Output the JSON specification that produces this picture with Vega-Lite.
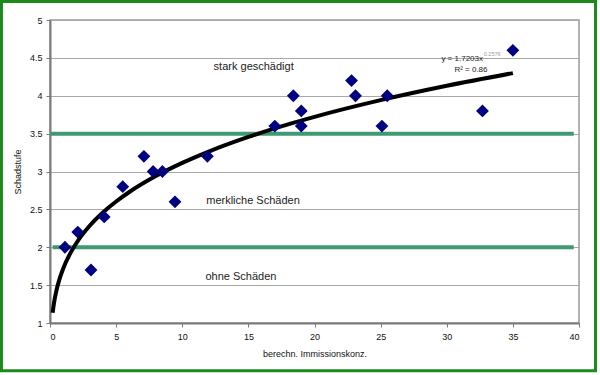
{
  "$schema": "https://vega.github.io/schema/vega-lite/v6.json",
  "width": 529,
  "height": 303,
  "autosize": {"type": "none"},
  "padding": {"left": 50, "top": 20, "right": 21, "bottom": 52},
  "background": "white",
  "config": {
    "font": "Liberation Sans",
    "view": {"stroke": "#9a9a9a", "strokeWidth": 1.5},
    "axis": {"labelFont": "Liberation Sans", "titleFont": "Liberation Sans"}
  },
  "datasets": {
    "points": [
      {"x": 1.13, "y": 2.0}, {"x": 2.1, "y": 2.2}, {"x": 3.1, "y": 1.7},
      {"x": 4.1, "y": 2.4}, {"x": 5.5, "y": 2.8}, {"x": 7.1, "y": 3.2},
      {"x": 7.8, "y": 3.0}, {"x": 8.5, "y": 3.0}, {"x": 9.45, "y": 2.6},
      {"x": 11.9, "y": 3.2}, {"x": 17.0, "y": 3.6}, {"x": 18.4, "y": 4.0},
      {"x": 19.0, "y": 3.8}, {"x": 19.0, "y": 3.6}, {"x": 22.8, "y": 4.2},
      {"x": 23.1, "y": 4.0}, {"x": 25.1, "y": 3.6}, {"x": 25.5, "y": 4.0},
      {"x": 32.7, "y": 3.8}, {"x": 35.0, "y": 4.6}
    ],
    "curve": [
      {"x": 0.2, "y": 1.1365}, {"x": 0.3, "y": 1.2617}, {"x": 0.5, "y": 1.439},
      {"x": 0.7, "y": 1.5693}, {"x": 1, "y": 1.7203}, {"x": 1.5, "y": 1.9097},
      {"x": 2, "y": 2.0566}, {"x": 3, "y": 2.283}, {"x": 4, "y": 2.4587},
      {"x": 5, "y": 2.604}, {"x": 6, "y": 2.7292}, {"x": 8, "y": 2.9393},
      {"x": 10, "y": 3.1133}, {"x": 12, "y": 3.2629}, {"x": 15, "y": 3.456},
      {"x": 18, "y": 3.6221}, {"x": 20, "y": 3.7217}, {"x": 25, "y": 3.9419},
      {"x": 30, "y": 4.1315}, {"x": 35, "y": 4.2989}
    ],
    "limits": [
      {"y": 3.5, "x1": 0, "x2": 39.6},
      {"y": 2.0, "x1": 0.2, "x2": 39.6}
    ],
    "labels": [
      {"x": 15.4, "y": 4.38, "text": "stark geschädigt"},
      {"x": 15.35, "y": 2.615, "text": "merkliche Schäden"},
      {"x": 14.44, "y": 1.603, "text": "ohne Schäden"}
    ],
    "frame": [
      {"x1": -3.67, "x2": 41.25, "y1": 0.37, "y2": 5.245}
    ]
  },
  "layer": [
    {
      "data": {"name": "limits"},
      "mark": {"type": "rule", "color": "#3d9a72", "strokeWidth": 4},
      "encoding": {
        "x": {
          "field": "x1", "type": "quantitative",
          "scale": {"domain": [0, 40], "nice": false, "zero": false},
          "axis": {
            "tickCount": 8,
            "format": "~g",
            "grid": false,
            "title": "berechn. Immissionskonz.",
            "titleFontSize": 9, "titleFontWeight": "normal", "titleColor": "#111",
            "titlePadding": 8,
            "labelFontSize": 9, "labelColor": "#111", "labelPadding": 5,
            "domainColor": "#7a7a7a", "domainWidth": 2,
            "tickColor": "#7a7a7a", "tickSize": 4
          }
        },
        "x2": {"field": "x2"},
        "y": {
          "field": "y", "type": "quantitative",
          "scale": {"domain": [1, 5], "nice": false, "zero": false},
          "axis": {
            "tickCount": 8,
            "format": "~g",
            "labelOverlap": false,
            "grid": true, "gridColor": "#a8a8a8", "gridWidth": 1.2,
            "title": "Schadstufe",
            "titleFontSize": 9, "titleFontWeight": "normal", "titleColor": "#111",
            "titlePadding": 7,
            "labelFontSize": 9, "labelColor": "#111", "labelPadding": 4,
            "domainColor": "#7a7a7a", "domainWidth": 2,
            "tickColor": "#7a7a7a", "tickSize": 4
          }
        }
      }
    },
    {
      "data": {"name": "curve"},
      "mark": {"type": "line", "color": "#000000", "strokeWidth": 4, "interpolate": "monotone"},
      "encoding": {
        "x": {"field": "x", "type": "quantitative"},
        "y": {"field": "y", "type": "quantitative"}
      }
    },
    {
      "data": {"name": "points"},
      "mark": {"type": "point", "shape": "diamond", "filled": true, "color": "#000080", "size": 165, "opacity": 1},
      "encoding": {
        "x": {"field": "x", "type": "quantitative"},
        "y": {"field": "y", "type": "quantitative"}
      }
    },
    {
      "data": {"name": "labels"},
      "mark": {"type": "text", "fontSize": 11, "color": "#1a1a1a", "align": "center", "baseline": "middle"},
      "encoding": {
        "x": {"field": "x", "type": "quantitative"},
        "y": {"field": "y", "type": "quantitative"},
        "text": {"field": "text"}
      }
    },
    {
      "data": {"values": [{"x": 32.74, "y": 4.485, "text": "y = 1.7203x"}]},
      "mark": {"type": "text", "fontSize": 8, "color": "#222", "align": "right", "baseline": "middle"},
      "encoding": {
        "x": {"field": "x", "type": "quantitative"},
        "y": {"field": "y", "type": "quantitative"},
        "text": {"field": "text"}
      }
    },
    {
      "data": {"values": [{"x": 32.8, "y": 4.551, "text": "0.2576"}]},
      "mark": {"type": "text", "fontSize": 5.5, "color": "#999", "align": "left", "baseline": "middle"},
      "encoding": {
        "x": {"field": "x", "type": "quantitative"},
        "y": {"field": "y", "type": "quantitative"},
        "text": {"field": "text"}
      }
    },
    {
      "data": {"values": [{"x": 31.83, "y": 4.34, "text": "R² = 0.86"}]},
      "mark": {"type": "text", "fontSize": 8, "color": "#222", "align": "center", "baseline": "middle"},
      "encoding": {
        "x": {"field": "x", "type": "quantitative"},
        "y": {"field": "y", "type": "quantitative"},
        "text": {"field": "text"}
      }
    },
    {
      "data": {"name": "frame"},
      "mark": {"type": "rect", "fill": null, "stroke": "#1b8a1b", "strokeWidth": 3, "clip": false},
      "encoding": {
        "x": {"field": "x1", "type": "quantitative"},
        "x2": {"field": "x2"},
        "y": {"field": "y1", "type": "quantitative"},
        "y2": {"field": "y2"}
      }
    }
  ]
}
